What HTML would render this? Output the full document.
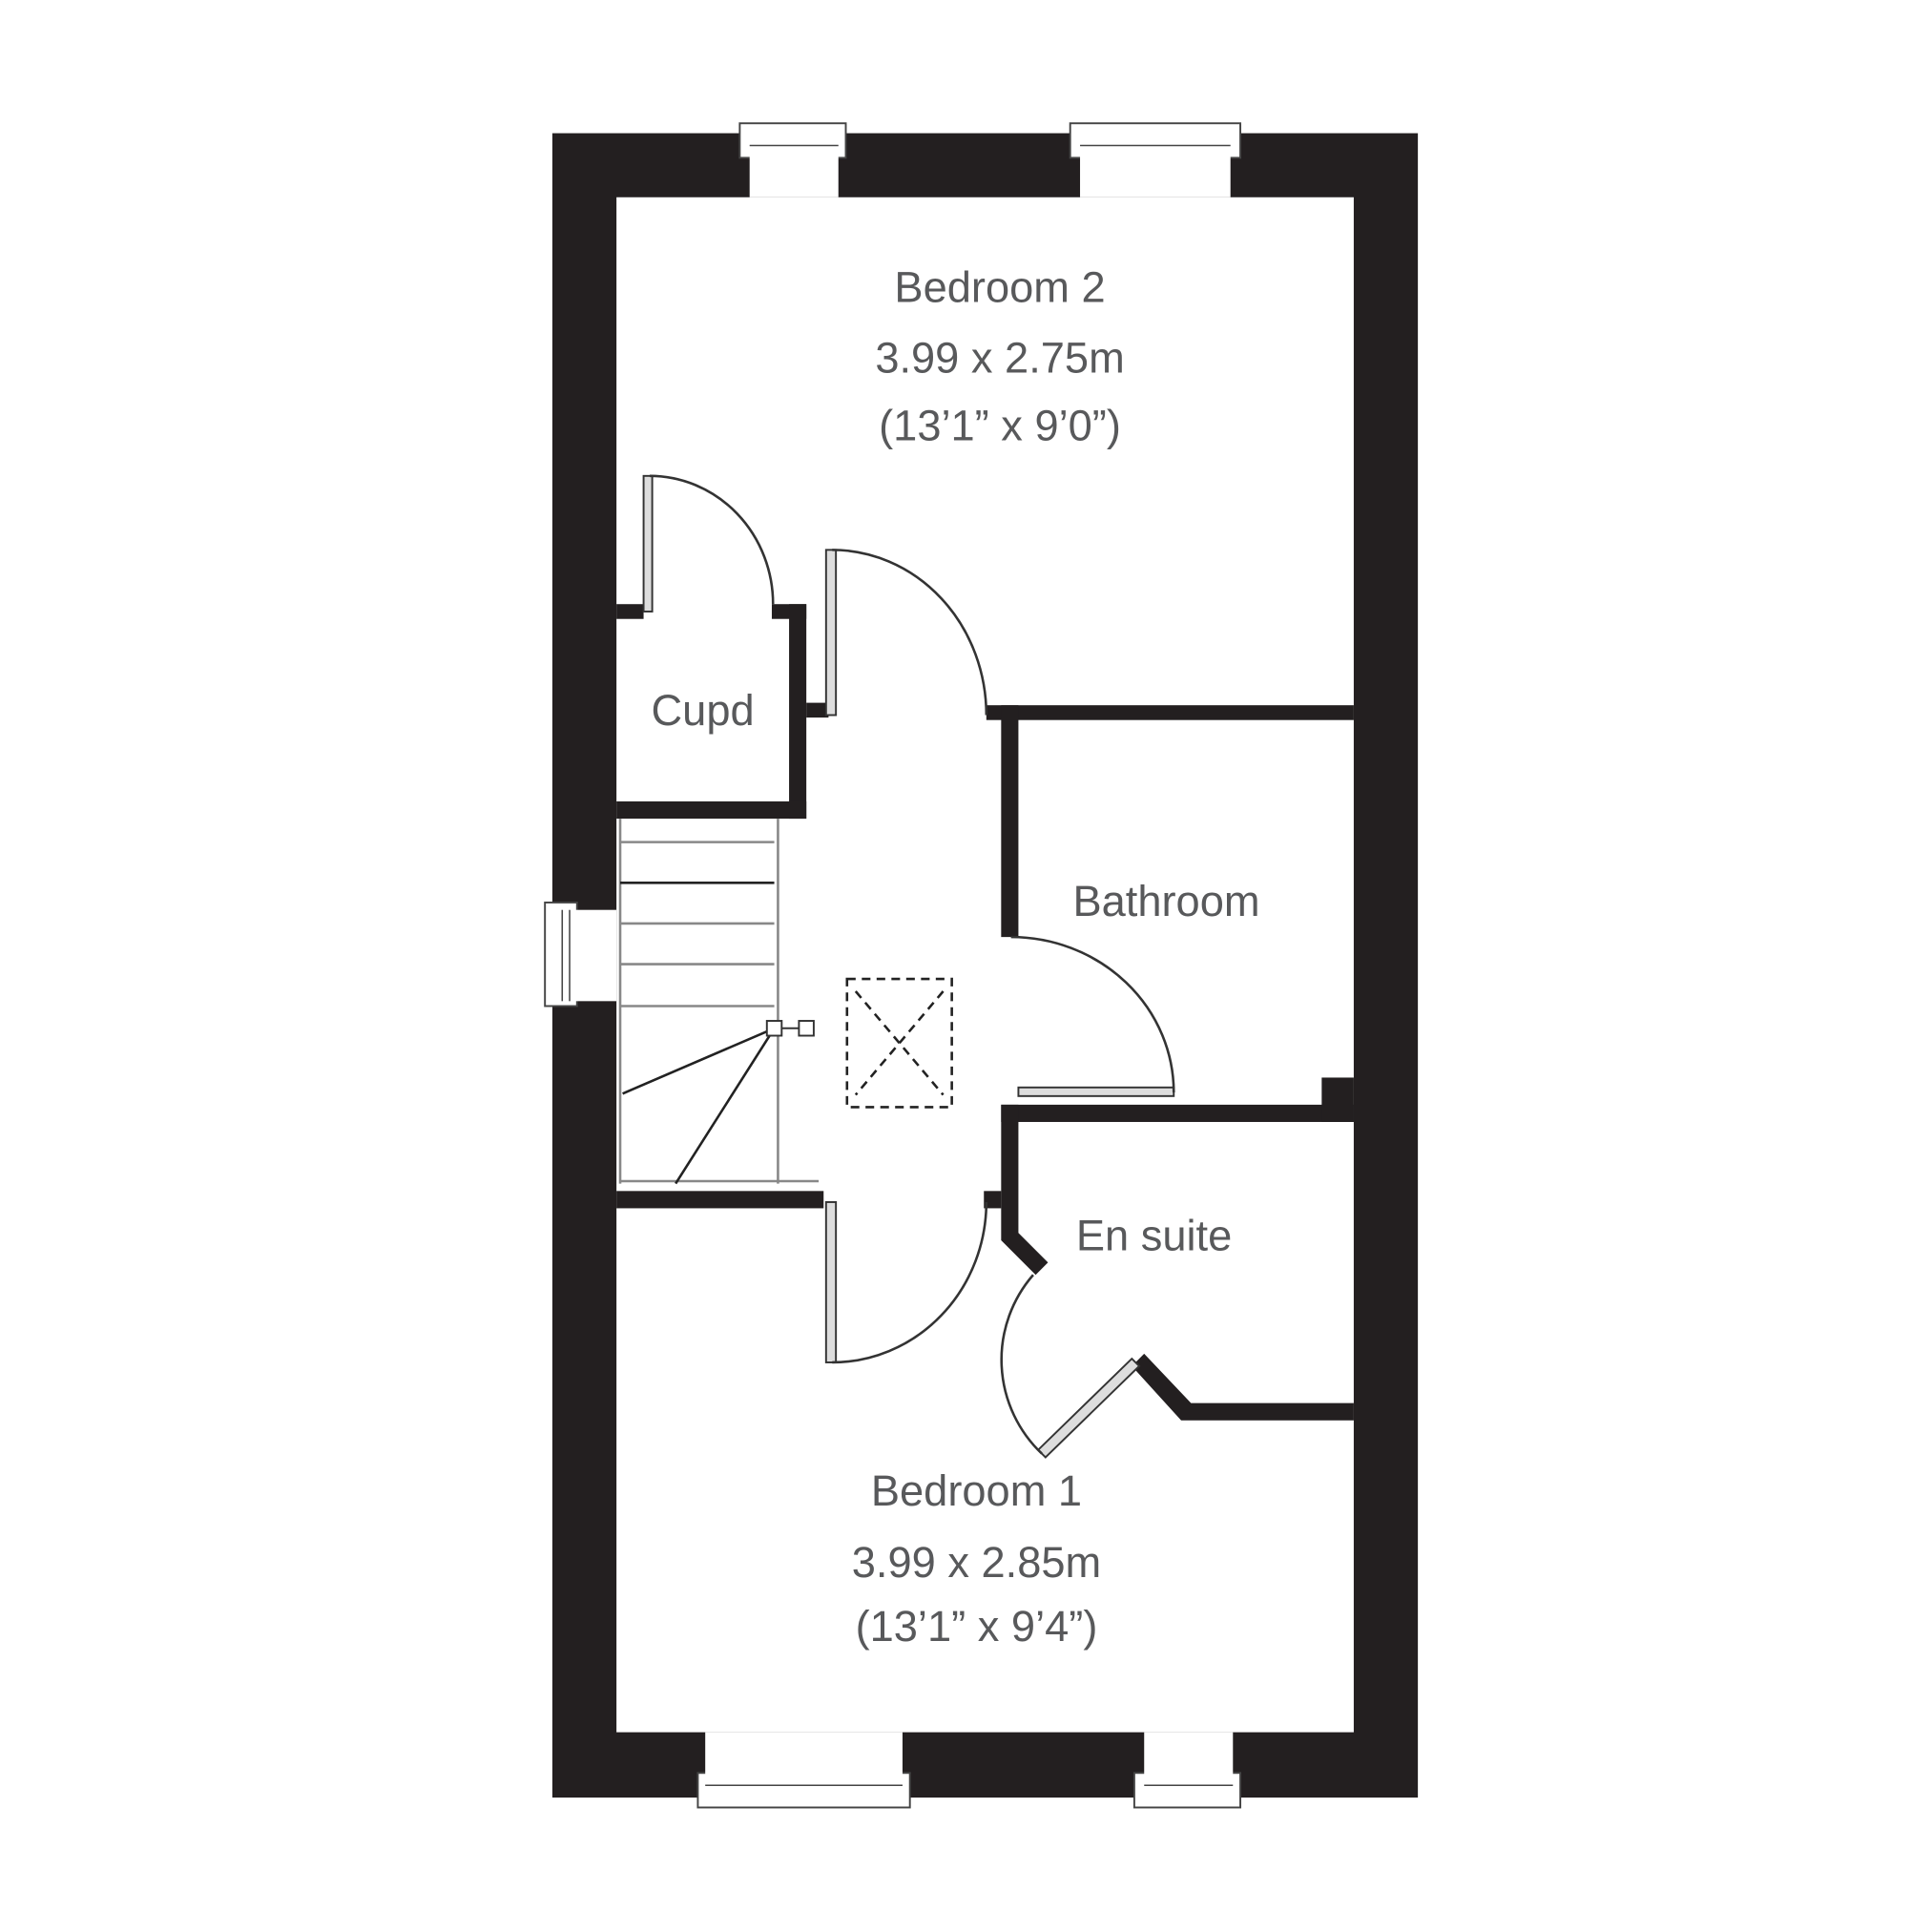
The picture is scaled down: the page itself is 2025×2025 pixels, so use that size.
<!DOCTYPE html>
<html><head><style>html,body{margin:0;padding:0;background:#fff}svg{display:block}</style></head>
<body>
<svg width="2025" height="2025" viewBox="0 0 1567 1567" xmlns="http://www.w3.org/2000/svg">
<g fill="#231f20">
<path fill-rule="evenodd" d="M448 108H1150V1458H448Z M500 160H1098V1405H500Z"/>
<rect x="500" y="490" width="22" height="12"/>
<rect x="626" y="490" width="28" height="12"/>
<rect x="640" y="490" width="14" height="174"/>
<rect x="500" y="650" width="154" height="14"/>
<rect x="654" y="570" width="18" height="12"/>
<rect x="800" y="572" width="298" height="12"/>
<rect x="812" y="572" width="14" height="188"/>
<rect x="812" y="896" width="286" height="14"/>
<rect x="1072" y="874" width="26" height="36"/>
<path d="M812 896H826V1000L850 1024L840 1034L812 1006Z"/>
<path d="M918 1108L928 1098L966 1138H1098V1152H958Z"/>
<rect x="500" y="966" width="168" height="14"/>
<rect x="798" y="966" width="14" height="14"/>
</g>
<g fill="#fff" stroke="#444" stroke-width="1.5">
<rect x="600" y="100" width="86" height="28"/><rect x="608" y="108" width="72" height="52" stroke="none"/>
<rect x="868" y="100" width="138" height="28"/><rect x="876" y="108" width="122" height="52" stroke="none"/>
<rect x="566" y="1438" width="172" height="28"/><rect x="572" y="1405" width="160" height="53" stroke="none"/>
<rect x="920" y="1438" width="86" height="28"/><rect x="928" y="1405" width="72" height="53" stroke="none"/>
<rect x="442" y="732" width="26" height="84"/><rect x="448" y="738" width="52" height="74" stroke="none"/>
</g>
<g stroke="#444" stroke-width="1.2" fill="none">
<line x1="608" y1="118" x2="680" y2="118"/><line x1="876" y1="118" x2="998" y2="118"/>
<line x1="572" y1="1448" x2="732" y2="1448"/><line x1="928" y1="1448" x2="1000" y2="1448"/>
<line x1="456" y1="738" x2="456" y2="812"/><line x1="462" y1="738" x2="462" y2="812"/>
</g>
<g fill="#ddd" stroke="#333" stroke-width="1.5">
<rect x="522" y="386" width="7" height="110"/>
<rect x="670" y="446" width="8" height="134"/>
<rect x="826" y="882" width="126" height="7"/>
<rect x="670" y="975" width="8" height="130"/>
<path d="M918 1102L924 1108L848 1182L842 1176Z"/>
</g>
<g fill="none" stroke="#333" stroke-width="2">
<path d="M527 386A100 104 0 0 1 627 490"/>
<path d="M675 446A125 134 0 0 1 800 580"/>
<path d="M820 760A132 126 0 0 1 952 886"/>
<path d="M675 1105A125 130 0 0 0 800 975"/>
<path d="M845 1179A105 105 0 0 1 838 1034"/>
</g>
<g stroke="#888" stroke-width="2" fill="none">
<line x1="503" y1="664" x2="503" y2="960"/>
<line x1="631" y1="664" x2="631" y2="960"/>
<line x1="503" y1="683" x2="628" y2="683"/>
<line x1="503" y1="749" x2="628" y2="749"/>
<line x1="503" y1="782" x2="628" y2="782"/>
<line x1="503" y1="816" x2="628" y2="816"/>
<line x1="503" y1="958" x2="664" y2="958"/>
</g>
<g stroke="#222" stroke-width="2" fill="none">
<line x1="503" y1="716" x2="628" y2="716"/>
<line x1="628" y1="834" x2="505" y2="887"/>
<line x1="628" y1="834" x2="548" y2="960"/>
</g>
<g fill="#fff" stroke="#333" stroke-width="1.5">
<rect x="622" y="828" width="12" height="12"/><line x1="634" y1="834" x2="648" y2="834"/><rect x="648" y="828" width="12" height="12"/>
</g>
<g fill="none" stroke="#222" stroke-width="2" stroke-dasharray="7,5">
<rect x="687" y="794" width="85" height="104"/>
<line x1="694" y1="804" x2="765" y2="888"/><line x1="765" y1="804" x2="694" y2="888"/>
</g>
<g font-family="Liberation Sans, sans-serif" font-size="35" fill="#58595b" text-anchor="middle">
<text x="811" y="245">Bedroom 2</text>
<text x="811" y="302">3.99 x 2.75m</text>
<text x="811" y="357">(13’1” x 9’0”)</text>
<text x="570" y="588">Cupd</text>
<text x="946" y="743">Bathroom</text>
<text x="936" y="1014">En suite</text>
<text x="792" y="1221">Bedroom 1</text>
<text x="792" y="1279">3.99 x 2.85m</text>
<text x="792" y="1331">(13’1” x 9’4”)</text>
</g>
</svg>
</body></html>
